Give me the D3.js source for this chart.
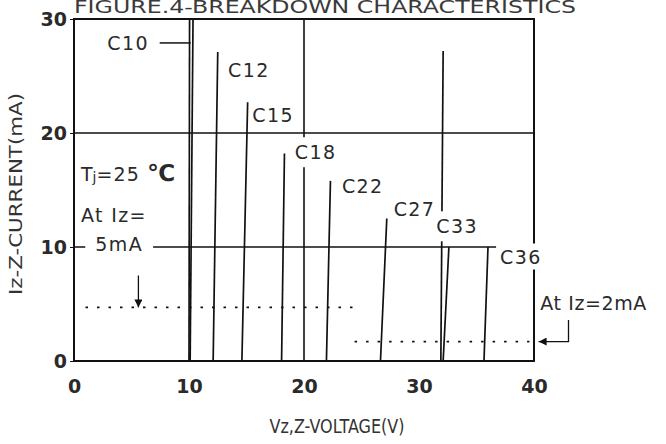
<!DOCTYPE html>
<html>
<head>
<meta charset="utf-8">
<script src="https://cdn.jsdelivr.net/npm/d3@7"></script>
<style>
  body { margin: 0; background: #fff; }
  text { font-family: "DejaVu Sans", sans-serif; fill: #2a2a2a; }
</style>
</head>
<body>
<div id="chart"></div>
<script>
// zener curves: voltage at Iz=0, voltage at top end, current at top end
var curveNames = ["C10", "C10", "C12", "C15", "C18", "C22", "C27", "C33", "C33", "C36"];
var vzStart = [10.0, 10.1, 12.1, 14.6, 18.05, 21.95, 26.65, 31.9, 32.1, 35.65];
var vzEnd = [10.05, 10.35, 12.5, 15.1, 18.3, 22.3, 27.2, 32.1, 32.6, 36.0];
var izEnd = [30, 30, 27.1, 22.7, 18.2, 15.8, 12.5, 27.2, 10, 10];

var xTicks = [0, 10, 20, 30, 40];
var yTicks = [0, 10, 20, 30];
var testCurrents = [4.7, 1.7]; // dotted lines (5mA and 2mA)

var svgWidth = 666, svgHeight = 444;
var margin = { top: 19, right: 132, bottom: 83, left: 74 };
var chartWidth = svgWidth - margin.left - margin.right;
var chartHeight = svgHeight - margin.top - margin.bottom;

var svg = d3.select("#chart").append("svg")
    .attr("width", svgWidth)
    .attr("height", svgHeight);

svg.append("defs").append("marker")
    .attr("id", "arrow")
    .attr("viewBox", "0 0 10 10")
    .attr("refX", 10).attr("refY", 5)
    .attr("markerWidth", 8).attr("markerHeight", 8)
    .attr("markerUnits", "userSpaceOnUse")
    .attr("orient", "auto")
    .append("path")
    .attr("d", "M0,0 L10,5 L0,10 Z")
    .attr("fill", "#111");

var g = svg.append("g")
    .attr("transform", `translate(${margin.left}, ${margin.top})`);

var x = d3.scaleLinear().domain([0, 40]).range([0, chartWidth]);
var y = d3.scaleLinear().domain([0, 30]).range([chartHeight, 0]);

// title (cut off at the top like the scan)
svg.append("text")
    .attr("x", 74).attr("y", 13)
    .attr("textLength", 502).attr("lengthAdjust", "spacingAndGlyphs")
    .attr("font-size", 18)
    .style("fill", "#3a3a3a")
    .text("FIGURE.4-BREAKDOWN CHARACTERISTICS");

// grid lines
g.selectAll(".hgrid").data([10, 20]).enter().append("line")
    .attr("x1", x(0)).attr("x2", x(40))
    .attr("y1", d => y(d)).attr("y2", d => y(d))
    .attr("stroke", "#111").attr("stroke-width", 1.6);

g.append("line")
    .attr("x1", x(20)).attr("x2", x(20))
    .attr("y1", y(0)).attr("y2", y(30))
    .attr("stroke", "#111").attr("stroke-width", 1.6);

// frame
g.append("rect")
    .attr("width", chartWidth).attr("height", chartHeight)
    .attr("fill", "none").attr("stroke", "#111").attr("stroke-width", 2);

// curves
g.selectAll(".curve").data(curveNames).enter().append("line")
    .attr("x1", (d, i) => x(vzStart[i])).attr("y1", y(0))
    .attr("x2", (d, i) => x(vzEnd[i])).attr("y2", (d, i) => y(izEnd[i]))
    .attr("stroke", "#111").attr("stroke-width", 1.7);

// dotted test current lines
g.append("line")
    .attr("x1", x(1)).attr("x2", x(24.4))
    .attr("y1", y(testCurrents[0])).attr("y2", y(testCurrents[0]))
    .attr("stroke", "#111").attr("stroke-width", 1.6).attr("stroke-dasharray", "2.5,9");
g.append("line")
    .attr("x1", x(24.4)).attr("x2", x(39.6))
    .attr("y1", y(testCurrents[1])).attr("y2", y(testCurrents[1]))
    .attr("stroke", "#111").attr("stroke-width", 1.6).attr("stroke-dasharray", "2.5,9");

// arrows
g.append("line")
    .attr("x1", x(5.6)).attr("x2", x(5.6))
    .attr("y1", y(7.5)).attr("y2", y(testCurrents[0]))
    .attr("stroke", "#111").attr("stroke-width", 1.3)
    .attr("marker-end", "url(#arrow)");
g.append("path")
    .attr("d", `M${x(43)},${y(3.6)} V${y(testCurrents[1])} H${x(40.4)}`)
    .attr("fill", "none").attr("stroke", "#111").attr("stroke-width", 1.3)
    .attr("marker-end", "url(#arrow)");

// labels with white boxes that hide the lines behind them
function label(txt, vx, iy, pad) {
    var t = g.append("text")
        .attr("x", x(vx)).attr("y", y(iy))
        .attr("dy", "0.36em")
        .attr("font-size", 19)
        .attr("letter-spacing", 1.4)
        .text(txt);
    var b = t.node().getBBox();
    g.insert("rect", function() { return t.node(); })
        .attr("x", b.x - pad[0]).attr("y", b.y - pad[1])
        .attr("width", b.width + pad[0] * 2).attr("height", b.height + pad[1] * 2)
        .attr("fill", "#fff");
    return t;
}

label("C10", 2.9, 27.9, [2, 2]);
g.append("line")
    .attr("x1", x(7.45)).attr("x2", x(10.15))
    .attr("y1", y(27.9)).attr("y2", y(27.9))
    .attr("stroke", "#111").attr("stroke-width", 1.5);
label("C12", 13.4, 25.5, [2, 2]);
label("C15", 15.5, 21.6, [2, 3]);
label("C18", 19.2, 18.3, [2, 4]);
label("C22", 23.3, 15.3, [2, 2]);
label("C27", 27.8, 13.3, [1, 2]);
label("C33", 31.5, 11.8, [1, 4]);
label("C36", 37.05, 9.15, [4, 2]);
label("5mA", 1.85, 10.25, [10, 3]);
label("At Iz=", 0.6, 12.8, [2, 2]);

var tj = g.append("text")
    .attr("x", x(0.6)).attr("y", y(16.4))
    .attr("dy", "0.36em")
    .attr("font-size", 19);
tj.append("tspan").text("T");
tj.append("tspan").attr("font-size", 14).attr("dy", 1).text("j");
tj.append("tspan").attr("dy", -1).attr("letter-spacing", 1.2).text("=25 ");
tj.append("tspan").attr("font-size", 23).attr("font-weight", "bold").text("℃");

g.append("text")
    .attr("x", x(40.55)).attr("y", y(5.1))
    .attr("dy", "0.36em")
    .attr("font-size", 19)
    .attr("letter-spacing", 0.6)
    .text("At Iz=2mA");

// axes (labels only, frame is drawn above)
var bottomAxis = d3.axisBottom(x).tickValues(xTicks).tickSize(0).tickPadding(19);
var leftAxis = d3.axisLeft(y).tickValues(yTicks).tickSize(4).tickPadding(3);

var xa = g.append("g")
    .attr("transform", `translate(0, ${chartHeight})`)
    .call(bottomAxis);
var ya = g.append("g").call(leftAxis);
[xa, ya].forEach(function(a) {
    a.select(".domain").remove();
    a.selectAll("text")
        .attr("font-size", 19)
        .attr("font-weight", "bold")
        .style("font-family", "DejaVu Sans")
        .style("fill", "#2a2a2a");
});
ya.selectAll("line").attr("stroke", "#111");

// axis titles
svg.append("text")
    .attr("transform", "translate(22, 194) rotate(-90)")
    .attr("text-anchor", "middle")
    .attr("font-size", 18)
    .attr("textLength", 202).attr("lengthAdjust", "spacingAndGlyphs")
    .style("fill", "#333")
    .text("Iz-Z-CURRENT(mA)");

svg.append("text")
    .attr("x", 337).attr("y", 433)
    .attr("text-anchor", "middle")
    .attr("font-size", 20)
    .attr("textLength", 135).attr("lengthAdjust", "spacingAndGlyphs")
    .style("fill", "#333")
    .text("Vz,Z-VOLTAGE(V)");
</script>
</body>
</html>
